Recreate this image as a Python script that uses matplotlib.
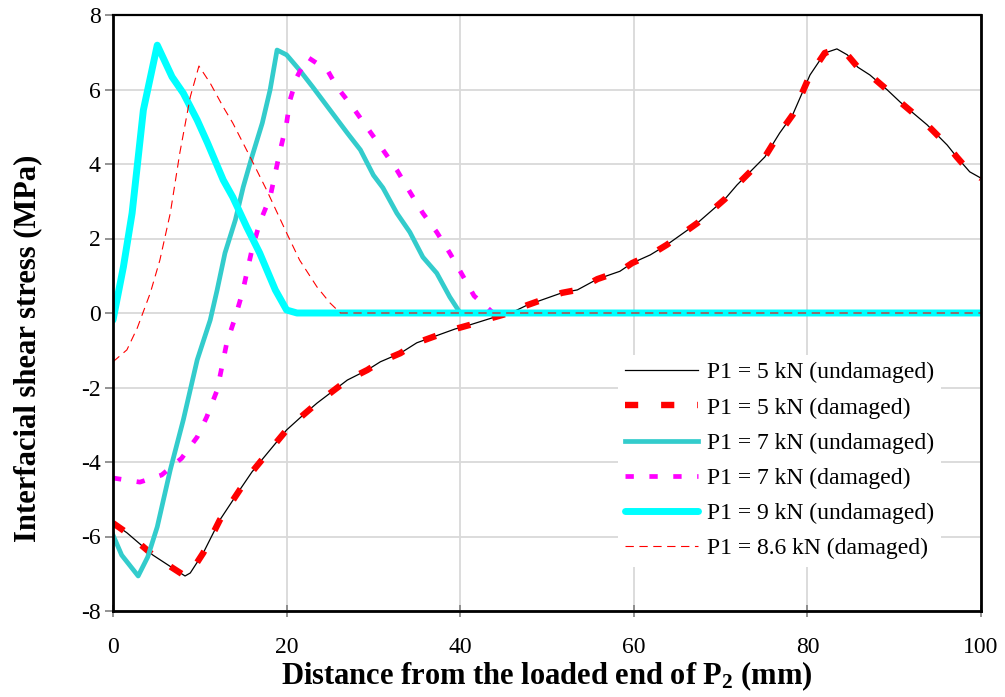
import matplotlib
matplotlib.use("Agg")
import matplotlib.pyplot as plt

plt.rcParams['font.family'] = ['Liberation Serif', 'DejaVu Serif']
plt.rcParams['lines.scale_dashes'] = False
plt.rcParams['mathtext.fontset'] = 'custom'
plt.rcParams['mathtext.rm'] = 'Liberation Serif:bold'
plt.rcParams['mathtext.bf'] = 'Liberation Serif:bold'
plt.rcParams['mathtext.it'] = 'Liberation Serif:bold'

# ---- data ----
x_5kN = [0, 1.6, 3.5, 4.6, 6.9, 8.3, 8.9, 10.4, 12.3, 14.6, 16, 17.3, 20, 21.9, 23.5, 27,
         29.3, 30.8, 33.1, 35, 36.9, 39.4, 41.1, 43.7, 46.1, 47.7, 50, 51.7, 53.5, 55.8,
         58.4, 59.8, 61.9, 63.8, 67.3, 70.5, 71.9, 73.4, 75.1, 76.8, 78.3, 80.3, 82, 83.4,
         84.6, 85.8, 87.2, 89.2, 90.7, 93.8, 96.1, 97.2, 98.7, 100]
y_5kN_undamaged = [-5.64, -5.9, -6.28, -6.5, -6.85, -7.06, -6.98, -6.44, -5.56, -4.75, -4.27,
                   -3.9, -3.14, -2.74, -2.42, -1.8, -1.53, -1.31, -1.08, -0.8, -0.64, -0.43,
                   -0.32, -0.13, 0.03, 0.21, 0.4, 0.54, 0.62, 0.91, 1.12, 1.34, 1.56, 1.83,
                   2.41, 3.06, 3.44, 3.79, 4.19, 4.83, 5.32, 6.39, 6.98, 7.09, 6.93, 6.6,
                   6.39, 5.99, 5.66, 5.05, 4.51, 4.19, 3.79, 3.62]
y_5kN_damaged = list(y_5kN_undamaged)

x_7kN_undamaged = [0, 1, 2.9, 4.0, 5.1, 6.6, 8.1, 9.7, 11.2, 12, 12.9, 14.1, 15, 16, 17.2, 18.1,
                   18.9, 20, 21.5, 23, 25, 27, 28.5, 30, 31.1, 32.7, 34.2, 35.7, 37.3, 38.8,
                   40, 100]
y_7kN_undamaged = [-5.96, -6.5, -7.06, -6.55, -5.74, -4.21, -2.87, -1.26, -0.19, 0.62, 1.61,
                   2.5, 3.38, 4.19, 5.1, 5.99, 7.06, 6.93, 6.52, 6.07, 5.45, 4.83, 4.38, 3.7,
                   3.36, 2.68, 2.17, 1.5, 1.07, 0.43, 0, 0]

x_7kN_damaged = [0, 3.1, 5.6, 7.9, 9.7, 10.8, 12, 13.1, 14.1, 14.9, 16, 16.9, 18.1, 19.2, 20,
                 20.4, 21.2, 22.4, 24.7, 25.8, 27.6, 29.3, 31.1, 32.7, 34.2, 35.7, 37.3, 38.8,
                 40.2, 41.6, 43.8, 100]
y_7kN_damaged = [-4.43, -4.54, -4.35, -3.9, -3.33, -2.79, -2.07, -0.81, -0.1, 0.54, 1.69, 2.42,
                 3.11, 4.3, 5.1, 5.72, 6.34, 6.87, 6.52, 6.07, 5.53, 4.97, 4.38, 3.84, 3.25,
                 2.68, 2.17, 1.61, 1.04, 0.46, 0, 0]

x_9kN_undamaged = [0, 1.2, 2.2, 3.5, 5.1, 6.8, 8.1, 9.7, 10.9, 12.7, 13.8, 15.4, 16.9, 18.7,
                   20, 21.2, 100]
y_9kN_undamaged = [-0.19, 1.24, 2.68, 5.45, 7.19, 6.34, 5.9, 5.18, 4.56, 3.57, 3.11, 2.31,
                   1.61, 0.62, 0.08, 0, 0]

x_86kN_damaged = [0, 1.6, 2.8, 4.3, 5.4, 6.6, 7.7, 8.9, 9.9, 11.2, 12.7, 13.8, 15.8, 17.7, 20,
                  21.5, 23.5, 25, 26.2, 100]
y_86kN_damaged = [-1.31, -0.99, -0.4, 0.54, 1.42, 2.68, 4.3, 5.8, 6.63, 6.17, 5.53, 5.1, 4.19,
                  3.3, 2.15, 1.42, 0.7, 0.27, 0, 0]

labels = ["P1 = 5 kN (undamaged)", "P1 = 5 kN (damaged)", "P1 = 7 kN (undamaged)",
          "P1 = 7 kN (damaged)", "P1 = 9 kN (undamaged)", "P1 = 8.6 kN (damaged)"]
x_ticks = [0, 20, 40, 60, 80, 100]
y_ticks = [-8, -6, -4, -2, 0, 2, 4, 6, 8]

# ---- figure ----
fig = plt.figure(figsize=(10.05, 6.97), dpi=100)
ax = fig.add_axes([113 / 1005, 1 - 611 / 697, 868 / 1005, 596 / 697])

ax.plot(x_5kN, y_5kN_undamaged, color='black', lw=0.9, label=labels[0])
ax.plot(x_5kN, y_5kN_damaged, color='#FF0000', lw=4.6, dashes=(9.5, 16.5), label=labels[1])
ax.plot(x_7kN_undamaged, y_7kN_undamaged, color='#33CCCC', lw=3.4, label=labels[2])
ax.plot(x_7kN_damaged, y_7kN_damaged, color='#FF00FF', lw=3.4, dashes=(6.0, 11.2), label=labels[3])
ax.plot(x_9kN_undamaged, y_9kN_undamaged, color='#00FFFF', lw=5.0, solid_capstyle='round',
        label=labels[4])
ax.plot(x_86kN_damaged, y_86kN_damaged, color='#FF0000', lw=0.8, dashes=(6.0, 4.0), label=labels[5])

ax.set_xlim(0, 100)
ax.set_ylim(-8, 8)
ax.set_xticks(x_ticks)
ax.set_yticks(y_ticks)
ax.set_xticklabels([str(v) for v in x_ticks])
ax.set_yticklabels([str(v) for v in y_ticks])
ax.grid(True, color='#D9D9D9', lw=1.3)
ax.set_axisbelow(True)

for s in ['left', 'bottom', 'right']:
    ax.spines[s].set_linewidth(2.0)
    ax.spines[s].set_color('black')
ax.spines['top'].set_linewidth(1.6)

ax.tick_params(axis='x', direction='inout', length=9, width=1.2, color='#808080',
               labelsize=17, pad=14)
ax.tick_params(axis='y', direction='out', length=6, width=1.2, color='#808080',
               labelsize=17, pad=3)

ax.set_xlabel("Distance from the loaded end of P$_{2}$ (mm)", fontsize=22, fontweight='bold')
ax.set_ylabel("Interfacial shear stress (MPa)", fontsize=22, fontweight='bold')
ax.xaxis.set_label_coords(0.5, -0.082)
ax.yaxis.set_label_coords(-0.082, 0.44)

leg = ax.legend(loc='upper left', bbox_to_anchor=(0.582, 0.43), fontsize=17,
                frameon=True, facecolor='white', edgecolor='none', framealpha=1,
                fancybox=False, borderpad=0.3, handlelength=3.1, handletextpad=0.35,
                labelspacing=0.58, borderaxespad=0)

fig.savefig("out.png", dpi=100)
